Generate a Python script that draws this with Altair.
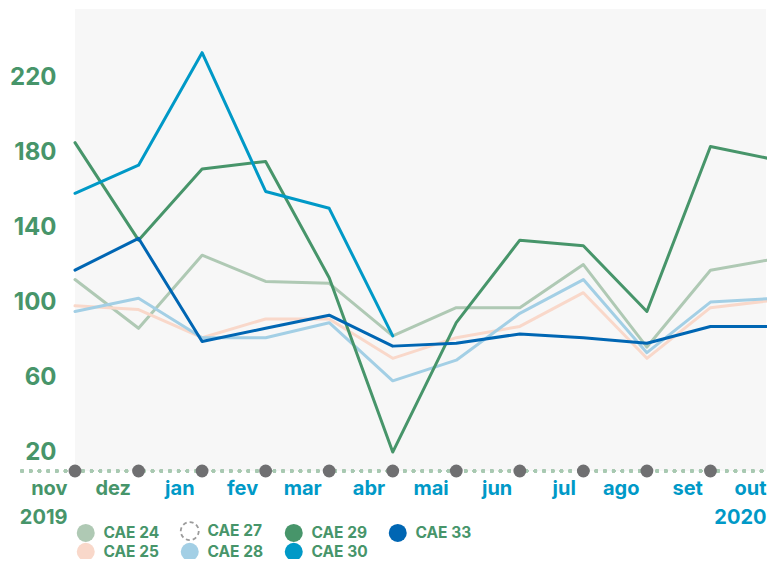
import altair as alt
import pandas as pd

# ---------------- data ----------------
months = ["nov", "dez", "jan", "fev", "mar", "abr", "mai", "jun", "jul", "ago", "set", "out"]
month_year = ["2019", "2019", "2020", "2020", "2020", "2020", "2020", "2020", "2020", "2020", "2020", "2020"]

cae24 = [112, 86, 125, 111, 110, 82, 97, 97, 120, 76, 117, 123]
cae25 = [98, 96, 81, 91, 91, 70, 81, 87, 105, 70, 97, 101]
cae27 = [None] * 12
cae28 = [95, 102, 81, 81, 89, 58, 69, 94, 112, 73, 100, 102]
cae29 = [185, 133, 171, 175, 113, 20, 89, 133, 130, 95, 183, 176]
cae30 = [158, 173, 233, 159, 150, 82, None, None, None, None, None, None]
cae33 = [117, 134, 79, 86, 93, 76.5, 78, 83, 81, 78, 87, 87]

series_names = ["CAE 24", "CAE 25", "CAE 27", "CAE 28", "CAE 29", "CAE 30", "CAE 33"]
series_values = [cae24, cae25, cae27, cae28, cae29, cae30, cae33]
series_colors = ["#afc9b4", "#f9d8ca", "#9b9b9b", "#a3cfe5", "#47956a", "#0099c7", "#0066b3"]
draw_order = ["CAE 24", "CAE 25", "CAE 28", "CAE 29", "CAE 33", "CAE 30"]

y_ticks = [20, 60, 100, 140, 180, 220]
y_domain = [9.9, 256.3]

GREEN = "#47956a"
TEAL = "#0099c7"
FONT = "Inter"

# ---------------- tables ----------------
lookup = dict(zip(series_names, series_values))
rows = []
for s in draw_order:
    for m, v in zip(months, lookup[s]):
        if v is not None:
            rows.append({"series": s, "month": m, "value": v})
df = pd.DataFrame(rows)
df_months = pd.DataFrame({"month": months})

# legend is laid out in 2 rows, filled column by column -> row-major order for a 4-column legend
n_rows = 2
n_cols = (len(series_names) + n_rows - 1) // n_rows
legend_order = [series_names[c * n_rows + r] for r in range(n_rows) for c in range(n_cols)
                if c * n_rows + r < len(series_names)]
legend_colors = [dict(zip(series_names, series_colors))[s] for s in legend_order]
empty_series = [s for s, v in zip(series_names, series_values) if all(x is None for x in v)]
empty_test = "indexof([" + ",".join("'%s'" % s for s in empty_series) + "], datum.value) >= 0"

# ---------------- axis label styling ----------------
green_months = [m for m, y in zip(months, month_year) if y == month_year[0]]
color_test = "indexof([" + ",".join("'%s'" % m for m in green_months) + "], datum.value) >= 0"
label_expr = (
    "datum.value == '%s' ? ['%s', '%s'] : datum.value == '%s' ? ['%s', '%s'] : datum.value"
    % (months[0], months[0], month_year[0], months[-1], months[-1], month_year[-1])
)

# the plot runs on past the right edge of the picture, as in the original
x_scale = alt.Scale(type="point", padding=0, domain=months, range=[0, 699])

x_enc = alt.X(
    "month:N",
    sort=months,
    scale=x_scale,
    axis=alt.Axis(
        title=None, domain=False, ticks=False, grid=False,
        labelExpr=label_expr, labelAngle=0,
        labelColor={"condition": {"test": color_test, "value": GREEN}, "value": TEAL},
        labelFont=FONT, labelFontSize=20, labelFontWeight="bold",
        labelAlign="right", labelOffset=-8, labelPadding=7, labelLineHeight=29,
        labelBaseline="top", labelOverlap=False,
    ),
)
y_scale = alt.Scale(domain=y_domain, nice=False, zero=False)
color_scale = alt.Scale(domain=legend_order, range=legend_colors)

legend = alt.Legend(
    title=None, orient="none", legendX=3, legendY=514, direction="horizontal",
    columns=n_cols, gridAlign="all", columnPadding=17, rowPadding=-7, padding=0,
    symbolType="circle", symbolSize=324,
    symbolFillColor=alt.ExprRef("%s ? 'transparent' : scale('color', datum.value)" % empty_test),
    symbolStrokeWidth=alt.ExprRef("%s ? 1.8 : 0" % empty_test),
    symbolDash=alt.ExprRef("%s ? [4, 3] : [1, 0]" % empty_test),
    symbolOpacity=1,
    labelFont=FONT, labelFontSize=15.5, labelFontWeight="bold", labelColor=GREEN,
    labelOffset=10, labelBaseline="middle",
)

lines = alt.Chart(df).mark_line(
    strokeWidth=3, strokeJoin="round", strokeCap="round"
).encode(
    x=x_enc,
    y=alt.Y(
        "value:Q", scale=y_scale,
        axis=alt.Axis(
            title=None, values=y_ticks, domain=False, ticks=False, grid=False,
            labelFont=FONT, labelFontSize=24, labelFontWeight="bold", labelColor=GREEN,
            labelPadding=19,
        ),
    ),
    color=alt.Color("series:N", scale=color_scale, legend=legend),
    detail="series:N",
)

baseline = alt.Chart(df_months).mark_rule(
    strokeDash=[0.1, 8.6], strokeCap="round", strokeWidth=3.5, color="#a9c9b2"
).encode(
    x=alt.value(-53), x2=alt.value(699), y=alt.datum(y_domain[0])
)

dots = alt.Chart(df_months).mark_circle(size=165, color="#6f6f71", opacity=1).encode(
    x=alt.X("month:N", sort=months, scale=x_scale),
    y=alt.datum(y_domain[0]),
)

chart = alt.layer(baseline, lines, dots).properties(
    width=691, height=462,
    autosize=alt.AutoSizeParams(type="none"),
    padding={"left": 67, "top": 1, "right": 1, "bottom": 88},
    background="white",
).configure_view(fill="#f7f7f7", stroke=None)

chart.save("out.html", embed_options={"renderer": "svg", "actions": False})
